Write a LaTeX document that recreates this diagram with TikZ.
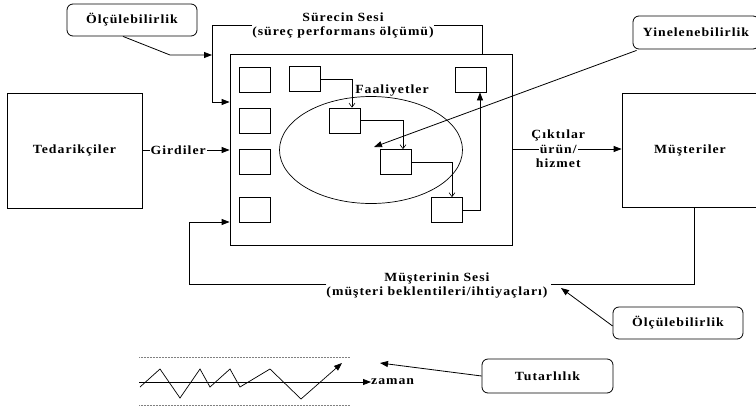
\documentclass[tikz,border=0pt]{standalone}
\usepackage{fontspec}
\setmainfont{Liberation Serif}[FakeStretch=1.1,LetterSpace=8]
\usetikzlibrary{arrows.meta,shapes.geometric,calc}
\tikzset{
  every node/.style={font=\fontsize{12.5}{14}\selectfont\bfseries},
  lbl/.style={inner sep=0pt, align=center},
  bigbox/.style={draw, line width=0.8pt, inner sep=0pt},
  sqbox/.style={draw, line width=0.8pt, inner sep=0pt, minimum width=31pt, minimum height=25pt},
  callout/.style={draw, line width=0.8pt, rounded corners=6pt, inner sep=0pt},
  conn/.style={line width=0.8pt},
  arr/.style={line width=0.8pt, -{Triangle[length=8pt,width=6pt]}},
  oarr/.style={line width=0.6pt, -{Straight Barb[length=4pt,width=6pt]}},
  dotline/.style={densely dotted, line width=0.5pt, gray},
}
\begin{document}
\begin{tikzpicture}[x=1pt,y=-1pt]
\useasboundingbox (0,0) rectangle (756,408);

% main boxes
\node[bigbox, minimum width=135pt, minimum height=115pt] (ted) at (74.5,150.5) {Tedarikçiler};
\node[bigbox, minimum width=282pt, minimum height=191pt] (main) at (371,149.5) {};
\node[bigbox, minimum width=136pt, minimum height=114pt] (mus) at (690,150) {};
\node[lbl] (muslbl) at (690,150) {Müşteriler};

% ellipse
\node[draw, ellipse, line width=0.7pt, minimum width=183pt, minimum height=107pt, inner sep=0pt] (ell) at (371,150) {};

% left column squares
\node[sqbox] (c1) at (254.5,79.5) {};
\node[sqbox] (c2) at (254.5,120.5) {};
\node[sqbox] (c3) at (254.5,162) {};
\node[sqbox] (c4) at (254.5,210) {};
% top row squares
\node[sqbox] (tsq) at (304.5,79) {};
\node[sqbox] (trsq) at (471,79.5) {};
% activity squares
\node[sqbox] (sq1) at (345,120.5) {};
\node[sqbox] (sq2) at (395.5,162) {};
\node[sqbox] (sq3) at (447,210) {};

\node[lbl] (faal) at (392,91) {Faaliyetler};

% activity connectors
\draw[oarr] (tsq.east) -| ($(sq1.north)+(7,0)$);
\draw[oarr] (sq1.east) -| ($(sq2.north)+(7.5,0)$);
\draw[oarr] (sq2.east) -| ($(sq3.north)+(5,0)$);
\draw[arr] (sq3.east) -| ($(trsq.south)+(9,0)$);

% Surecin Sesi
\node[lbl] (ss) at (343,25) {Sürecin Sesi\\(süreç performans ölçümü)};
\coordinate (lk) at (212,102);
\draw[arr] (ss.west) -| (lk) -- (lk -| main.west);
\draw[conn] (ss.east) -| ([xshift=-30pt]main.north east);

% Olculebilirlik top
\node[callout, minimum width=130pt, minimum height=32pt] (o1) at (132,20) {Ölçülebilirlik};
\coordinate (o1k) at (170,55);
\draw[arr] ([xshift=-9pt]o1.south) -- (o1k) -- (o1k -| lk);

% Girdiler
\draw[arr] (ted.east |- 0,150) -- (main.west |- 0,150)
  node[pos=0.41, lbl, fill=white, inner xsep=1pt] (gir) {Girdiler};

% Ciktilar
\draw[arr] (main.east |- 0,149) -- (mus.west |- 0,149)
  node[pos=0.42, lbl, fill=white, inner xsep=1pt] (urun) {ürün/};
\node[lbl] (cik) at ($(urun)+(0,-14)$) {Çıktılar};
\node[lbl] (hiz) at ($(urun)+(0,14)$) {hizmet};

% Yinelenebilirlik
\node[callout, minimum width=126pt, minimum height=33pt] (yin) at (696,32.5) {Yinelenebilirlik};
\coordinate (ytip) at (374,147);
\draw[arr] ([xshift=4pt,yshift=-1pt]yin.south west) -- (ytip);

% Musterinin Sesi feedback
\node[lbl] (mss) at (437,286) {Müşterinin Sesi\\(müşteri beklentileri/ihtiyaçları)};
\coordinate (mlk) at (189,222);
\draw[arr] (mss.west |- 0,284) -| (mlk) -- (mlk -| main.west);
\draw[conn] ([xshift=4pt]mus.south) |- ([xshift=3pt]mss.east |- 0,284);

% Olculebilirlik bottom
\node[callout, minimum width=130pt, minimum height=32pt] (o2) at (678,323) {Ölçülebilirlik};
\coordinate (o2tip) at (561,288);
\draw[arr] ([yshift=-3pt]o2.west) -- (o2tip);

% time chart
\coordinate (d1a) at (139,357); \coordinate (d1b) at (350,357);
\coordinate (d2a) at (139,405); \coordinate (d2b) at (350,405);
\draw[dotline] (d1a) -- (d1b);
\draw[dotline] (d2a) -- (d2b);
\node[lbl, anchor=west] (zm) at (371,382) {zaman};
\coordinate (ax0) at (139,382);
\draw[arr] (ax0) -- (zm.west);
\draw[arr, line width=0.7pt] (140,387) -- (160,369) -- (180,398) -- (200,369) -- (210,387) -- (230,369) -- (240,387) -- (270,369) -- (301,399) -- (342,363);

% Tutarlilik
\node[callout, minimum width=131pt, minimum height=34pt] (tut) at (547.5,376) {Tutarlılık};
\coordinate (ttip) at (380,363);
\draw[arr] (tut.west) -- (ttip);
\end{tikzpicture}
\end{document}
